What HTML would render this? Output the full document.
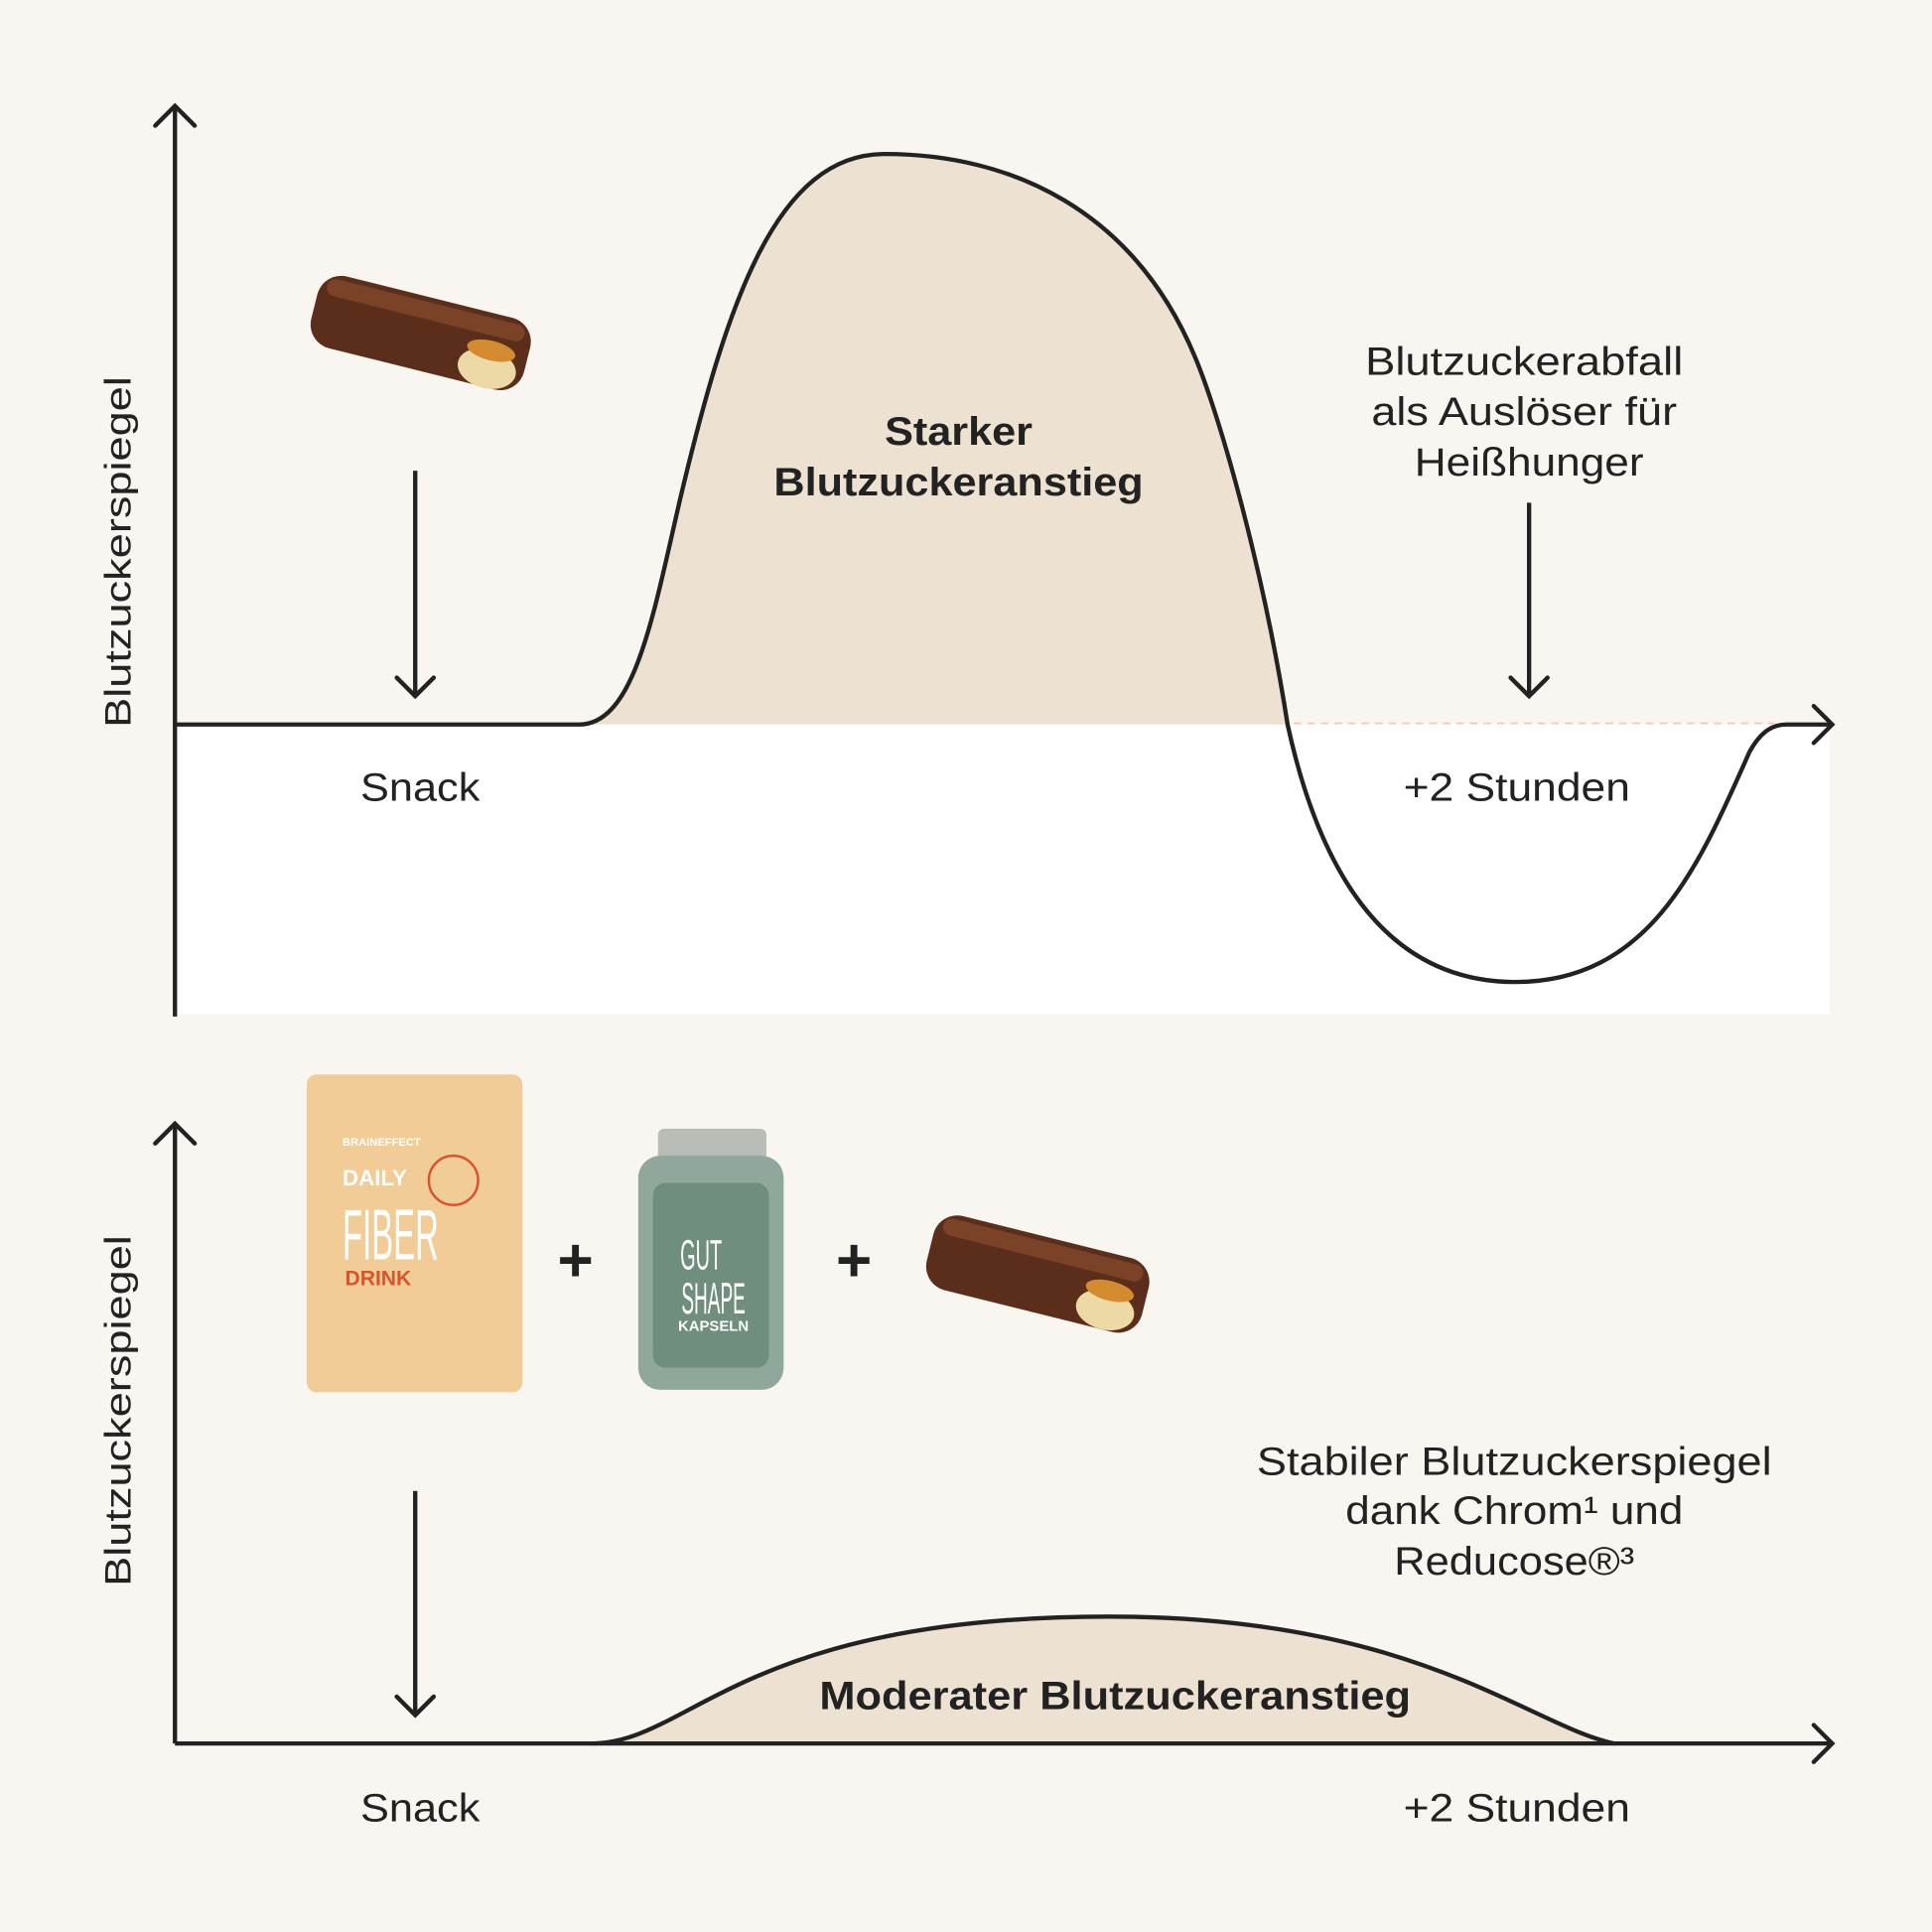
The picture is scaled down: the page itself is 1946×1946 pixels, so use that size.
<!DOCTYPE html>
<html><head><meta charset="utf-8"><style>
html,body{margin:0;padding:0;background:#f9f5f0;}
svg{display:block}
text{font-family:"Liberation Sans",sans-serif;fill:#222;}
</style></head><body>
<svg width="1946" height="1946" viewBox="0 0 1568 1568" xmlns="http://www.w3.org/2000/svg">
<rect width="1568" height="1568" fill="#f9f5f0"/>
<rect x="142" y="588" width="1343" height="235" fill="#ffffff"/>
<path d="M470,588 C515,588 530,500 552,405 C590,245 630,125 718,125 C820,125 920,170 970,290 C990,338 1025,460 1045,588 Z" fill="#ede2d2"/>
<path d="M142,588 L470,588 C515,588 530,500 552,405 C590,245 630,125 718,125 C820,125 920,170 970,290 C990,338 1025,460 1045,588 C1065,680 1110,797 1230,797 C1340,797 1380,700 1420,610 C1430,592 1440,588 1450,588 L1487,588" fill="none" stroke="#222" stroke-width="3.5"/>
<line x1="1050" y1="587" x2="1440" y2="587" stroke="#f4c9bd" stroke-width="1.5" stroke-dasharray="6,5"/>
<line x1="142" y1="825" x2="142" y2="86" stroke="#222" stroke-width="3.5"/>
<polyline points="126,102 142,86 158,102" fill="none" stroke="#222" stroke-width="3.5" stroke-linecap="round"/>
<polyline points="1472,573 1487,588 1472,603" fill="none" stroke="#222" stroke-width="3.5" stroke-linecap="round"/>
<line x1="337" y1="382" x2="337" y2="564" stroke="#222" stroke-width="3.5"/>
<polyline points="322,550 337,565 352,550" fill="none" stroke="#222" stroke-width="3.5" stroke-linecap="round"/>
<line x1="1241" y1="408" x2="1241" y2="564" stroke="#222" stroke-width="3.5"/>
<polyline points="1226,550 1241,565 1256,550" fill="none" stroke="#222" stroke-width="3.5" stroke-linecap="round"/>
<text x="98" y="448" font-size="30" transform="rotate(-90 98 448)" text-anchor="middle" dominant-baseline="middle" textLength="285" lengthAdjust="spacingAndGlyphs">Blutzuckerspiegel</text>
<text x="778" y="361" font-size="32" font-weight="bold" text-anchor="middle" textLength="120" lengthAdjust="spacingAndGlyphs">Starker</text>
<text x="778" y="402" font-size="32" font-weight="bold" text-anchor="middle" textLength="300" lengthAdjust="spacingAndGlyphs">Blutzuckeranstieg</text>
<text x="1237" y="304" font-size="32" text-anchor="middle" textLength="258" lengthAdjust="spacingAndGlyphs">Blutzuckerabfall</text>
<text x="1237" y="345" font-size="32" text-anchor="middle" textLength="248" lengthAdjust="spacingAndGlyphs">als Auslöser für</text>
<text x="1241" y="386" font-size="32" text-anchor="middle" textLength="186" lengthAdjust="spacingAndGlyphs">Heißhunger</text>
<text x="341" y="650" font-size="32" text-anchor="middle" textLength="97" lengthAdjust="spacingAndGlyphs">Snack</text>
<text x="1231" y="650" font-size="32" text-anchor="middle" textLength="184" lengthAdjust="spacingAndGlyphs">+2 Stunden</text>
<g transform="rotate(14 340 272)">
<rect x="252" y="240" width="178" height="60" rx="20" fill="#5a2e1a"/>
<rect x="258" y="244" width="165" height="14" rx="7" fill="#7a4226"/>
<ellipse cx="400" cy="285" rx="24" ry="16" fill="#ecd9a6"/>
<ellipse cx="400" cy="270" rx="20" ry="8" fill="#d48a2f"/>
</g>
<path d="M480,1415 C560,1415 600,1312 900,1312 C1150,1312 1240,1400 1310,1415 Z" fill="#ede2d2"/>
<path d="M480,1415 C560,1415 600,1312 900,1312 C1150,1312 1240,1400 1310,1415" fill="none" stroke="#222" stroke-width="3.5"/>
<line x1="142" y1="1415" x2="142" y2="912" stroke="#222" stroke-width="3.5"/>
<polyline points="126,928 142,912 158,928" fill="none" stroke="#222" stroke-width="3.5" stroke-linecap="round"/>
<line x1="142" y1="1415" x2="1487" y2="1415" stroke="#222" stroke-width="3.5"/>
<polyline points="1472,1400 1487,1415 1472,1430" fill="none" stroke="#222" stroke-width="3.5" stroke-linecap="round"/>
<line x1="337" y1="1210" x2="337" y2="1391" stroke="#222" stroke-width="3.5"/>
<polyline points="322,1377 337,1392 352,1377" fill="none" stroke="#222" stroke-width="3.5" stroke-linecap="round"/>
<text x="98" y="1145" font-size="30" transform="rotate(-90 98 1145)" text-anchor="middle" dominant-baseline="middle" textLength="285" lengthAdjust="spacingAndGlyphs">Blutzuckerspiegel</text>
<text x="1229" y="1197" font-size="32" text-anchor="middle" textLength="418" lengthAdjust="spacingAndGlyphs">Stabiler Blutzuckerspiegel</text>
<text x="1229" y="1237" font-size="32" text-anchor="middle" textLength="274" lengthAdjust="spacingAndGlyphs">dank Chrom¹ und</text>
<text x="1229" y="1278" font-size="32" text-anchor="middle" textLength="195" lengthAdjust="spacingAndGlyphs">Reducose®³</text>
<text x="905" y="1387" font-size="32" font-weight="bold" text-anchor="middle" textLength="480" lengthAdjust="spacingAndGlyphs">Moderater Blutzuckeranstieg</text>
<text x="341" y="1478" font-size="32" text-anchor="middle" textLength="97" lengthAdjust="spacingAndGlyphs">Snack</text>
<text x="1231" y="1478" font-size="32" text-anchor="middle" textLength="184" lengthAdjust="spacingAndGlyphs">+2 Stunden</text>
<rect x="249" y="872" width="175" height="258" rx="8" fill="#f2cc96"/>
<text x="278" y="930" font-size="9" style="fill:#fff" font-weight="bold">BRAINEFFECT</text>
<text x="278" y="962" font-size="18" style="fill:#fff" font-weight="bold">DAILY</text>
<text x="278" y="1022" font-size="58" style="fill:#fff" textLength="78" lengthAdjust="spacingAndGlyphs">FIBER</text>
<text x="280" y="1043" font-size="17" style="fill:#d9532b" font-weight="bold">DRINK</text>
<circle cx="368" cy="958" r="20" fill="none" stroke="#d9532b" stroke-width="2"/>
<text x="467" y="1040" font-size="50" font-weight="bold" text-anchor="middle">+</text>
<text x="693" y="1040" font-size="50" font-weight="bold" text-anchor="middle">+</text>
<rect x="534" y="916" width="88" height="26" rx="5" fill="#b9bdb8"/>
<rect x="518" y="938" width="118" height="190" rx="18" fill="#8fa89b"/>
<rect x="530" y="960" width="94" height="150" rx="10" fill="#6f8e7d"/>
<text x="569" y="1030" font-size="34" text-anchor="middle" style="fill:#fff" textLength="34" lengthAdjust="spacingAndGlyphs">GUT</text>
<text x="579" y="1066" font-size="36" text-anchor="middle" style="fill:#fff" textLength="52" lengthAdjust="spacingAndGlyphs">SHAPE</text>
<text x="579" y="1080" font-size="12" text-anchor="middle" style="fill:#fff" font-weight="bold">KAPSELN</text>
<g transform="rotate(14 842 1035)">
<rect x="752" y="1003" width="180" height="62" rx="20" fill="#5a2e1a"/>
<rect x="758" y="1007" width="167" height="14" rx="7" fill="#7a4226"/>
<ellipse cx="902" cy="1049" rx="24" ry="16" fill="#ecd9a6"/>
<ellipse cx="902" cy="1033" rx="20" ry="8" fill="#d48a2f"/>
</g>
</svg>
</body></html>
